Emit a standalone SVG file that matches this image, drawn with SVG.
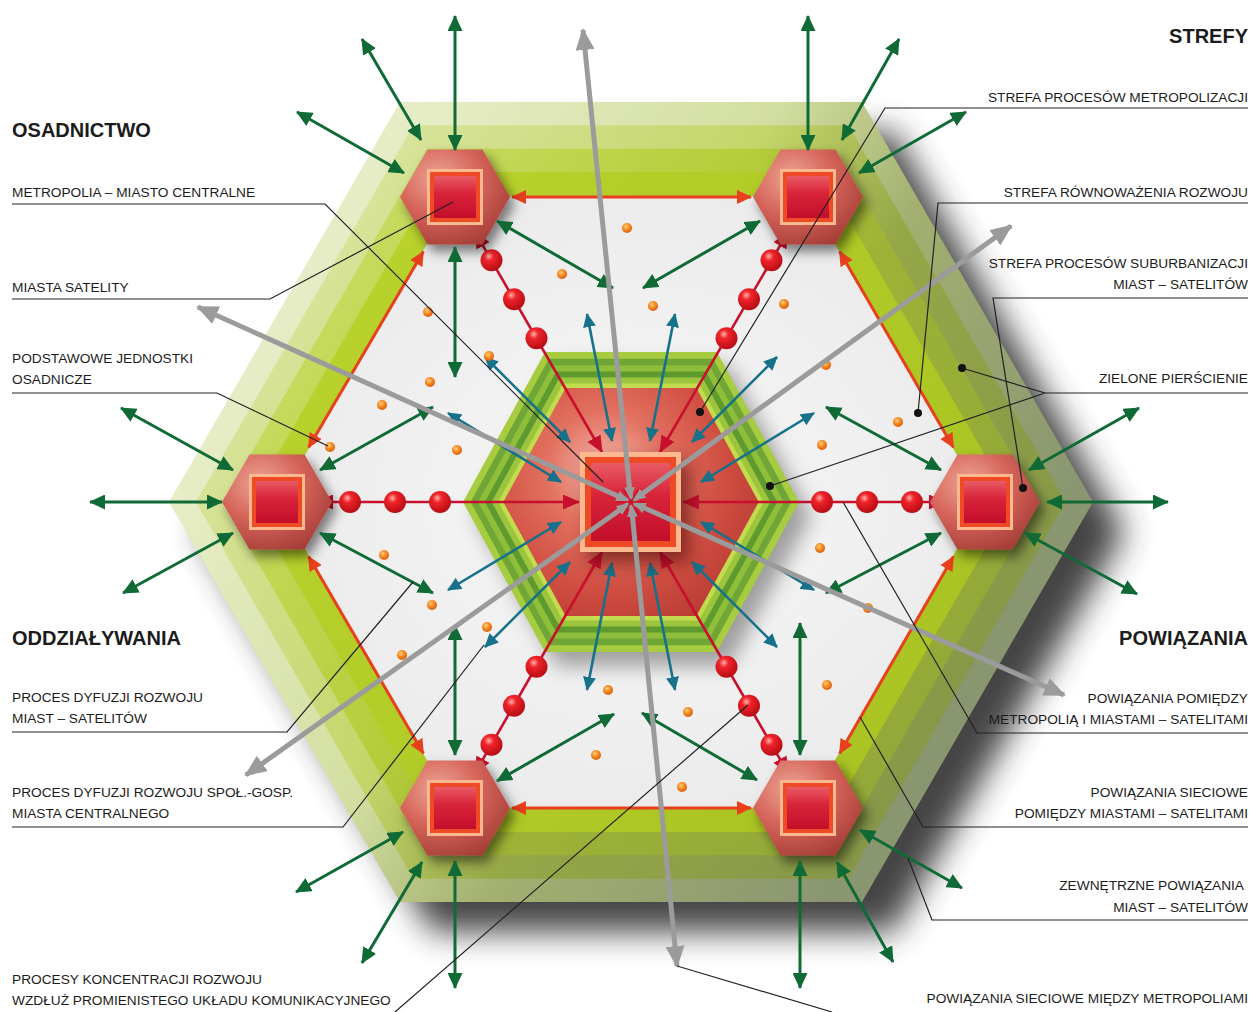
<svg xmlns="http://www.w3.org/2000/svg" xmlns:xlink="http://www.w3.org/1999/xlink" width="1252" height="1012" viewBox="0 0 1252 1012">
<defs>
<style>
text{font-family:"Liberation Sans",Arial,sans-serif;fill:#1c1c1c}
.h{font-size:20px;font-weight:bold}
.l{font-size:13.7px}
.end{text-anchor:end}
.ld{fill:none;stroke:#222;stroke-width:1.2}
.dot{fill:#111}
.g{stroke:#0f6a36;stroke-width:3;fill:none;marker-start:url(#mG);marker-end:url(#mG)}
.t{stroke:#17718a;stroke-width:2.6;fill:none;marker-start:url(#mT);marker-end:url(#mT)}
.r{stroke:#c8102e;stroke-width:2.6;fill:none;marker-start:url(#mR);marker-end:url(#mR)}
.e{stroke:#e8401c;stroke-width:3;fill:none;marker-start:url(#mE);marker-end:url(#mE)}
.gy{stroke:#9b9b9b;stroke-width:5;fill:none;marker-start:url(#mGs);marker-end:url(#mGy)}
.sp{fill:url(#sphere)}
.od{fill:url(#orange)}
</style>
<marker id="mG" viewBox="0 0 16 15" refX="15" refY="7.5" markerWidth="16" markerHeight="15" markerUnits="userSpaceOnUse" orient="auto-start-reverse"><path d="M0,0L16,7.5L0,15z" fill="#0f6a36"/></marker>
<marker id="mT" viewBox="0 0 14 13" refX="13" refY="6.5" markerWidth="14" markerHeight="13" markerUnits="userSpaceOnUse" orient="auto-start-reverse"><path d="M0,0L14,6.5L0,13z" fill="#17718a"/></marker>
<marker id="mR" viewBox="0 0 17 15" refX="16" refY="7.5" markerWidth="17" markerHeight="15" markerUnits="userSpaceOnUse" orient="auto-start-reverse"><path d="M0,0L17,7.5L0,15z" fill="#c8102e"/></marker>
<marker id="mE" viewBox="0 0 15 14" refX="14" refY="7" markerWidth="15" markerHeight="14" markerUnits="userSpaceOnUse" orient="auto-start-reverse"><path d="M0,0L15,7L0,14z" fill="#e8401c"/></marker>
<marker id="mGy" viewBox="0 0 22 19" refX="20" refY="9.5" markerWidth="22" markerHeight="19" markerUnits="userSpaceOnUse" orient="auto-start-reverse"><path d="M0,0L22,9.5L0,19z" fill="#9b9b9b"/></marker>
<marker id="mGs" viewBox="0 0 13 11" refX="12" refY="5.5" markerWidth="13" markerHeight="11" markerUnits="userSpaceOnUse" orient="auto-start-reverse"><path d="M0,0L13,5.5L0,11z" fill="#9b9b9b"/></marker>

<linearGradient id="b4" gradientUnits="userSpaceOnUse" x1="300" y1="300" x2="950" y2="700"><stop offset="0" stop-color="#e6edc6"/><stop offset="0.4" stop-color="#d3dfa0"/><stop offset="0.62" stop-color="#a3b070"/><stop offset="1" stop-color="#8a9670"/></linearGradient>
<linearGradient id="b3" gradientUnits="userSpaceOnUse" x1="300" y1="300" x2="950" y2="700"><stop offset="0" stop-color="#d7e49a"/><stop offset="0.4" stop-color="#c4d66a"/><stop offset="0.62" stop-color="#96a748"/><stop offset="1" stop-color="#879848"/></linearGradient>
<linearGradient id="b2" gradientUnits="userSpaceOnUse" x1="300" y1="300" x2="950" y2="700"><stop offset="0" stop-color="#c8dc62"/><stop offset="0.4" stop-color="#b6cd3a"/><stop offset="0.62" stop-color="#9db236"/><stop offset="1" stop-color="#93a838"/></linearGradient>
<linearGradient id="b1" gradientUnits="userSpaceOnUse" x1="300" y1="300" x2="950" y2="700"><stop offset="0" stop-color="#b9d22c"/><stop offset="1" stop-color="#a9c322"/></linearGradient>
<radialGradient id="interior" cx="0.5" cy="0.5" r="0.6"><stop offset="0" stop-color="#f8f8f8"/><stop offset="1" stop-color="#e9e9e9"/></radialGradient>
<radialGradient id="redHex" gradientUnits="userSpaceOnUse" cx="605" cy="470" r="170"><stop offset="0" stop-color="#f4b8ad"/><stop offset="0.35" stop-color="#e2705f"/><stop offset="0.7" stop-color="#d04e42"/><stop offset="1" stop-color="#b93c34"/></radialGradient>
<radialGradient id="hexG" cx="0.35" cy="0.3" r="0.85"><stop offset="0" stop-color="#eea595"/><stop offset="0.45" stop-color="#d5645a"/><stop offset="1" stop-color="#9c3630"/></radialGradient>
<linearGradient id="sqG" x1="0" y1="0" x2="0" y2="1"><stop offset="0" stop-color="#e95b66"/><stop offset="0.4" stop-color="#d9253a"/><stop offset="1" stop-color="#c20e2a"/></linearGradient>
<radialGradient id="sphere" cx="0.38" cy="0.32" r="0.7"><stop offset="0" stop-color="#ffb0a8"/><stop offset="0.3" stop-color="#f0242a"/><stop offset="1" stop-color="#b50c14"/></radialGradient>
<radialGradient id="orange" cx="0.4" cy="0.35" r="0.7"><stop offset="0" stop-color="#ffd080"/><stop offset="0.5" stop-color="#f5881e"/><stop offset="1" stop-color="#d9560e"/></radialGradient>
<filter id="blurBig" x="-20%" y="-20%" width="140%" height="140%"><feGaussianBlur stdDeviation="16"/></filter>
<filter id="blurMid" x="-30%" y="-30%" width="160%" height="160%"><feGaussianBlur stdDeviation="10"/></filter>
<filter id="ds" x="-40%" y="-40%" width="180%" height="180%"><feDropShadow dx="5" dy="7" stdDeviation="6" flood-color="#000" flood-opacity="0.5"/></filter>
<filter id="ds2" x="-40%" y="-40%" width="180%" height="180%"><feDropShadow dx="8" dy="10" stdDeviation="9" flood-color="#3a0000" flood-opacity="0.55"/></filter>
<g id="satShape">
<polygon points="55,0 27.5,-47.6 -27.5,-47.6 -55,0 -27.5,47.6 27.5,47.6" fill="url(#hexG)" filter="url(#ds)"/>
<rect x="-28" y="-28" width="56" height="56" fill="#fcb88e"/>
<rect x="-25" y="-25" width="50" height="50" fill="#ee4a26"/>
<rect x="-21" y="-21" width="42" height="42" fill="url(#sqG)"/>
</g>
</defs>

<rect width="1252" height="1012" fill="#ffffff"/>

<g id="zones">
<polygon points="1093,502 862,102 400,102 169,502 400,902 862,902" transform="translate(32,30)" fill="#3a3a3a" opacity="0.95" filter="url(#blurBig)"/>
<polygon points="1093,502 862,102 400,102 169,502 400,902 862,902" fill="url(#b4)"/>
<polygon points="1066,502 848.5,125.3 413.5,125.3 196,502 413.5,878.7 848.5,878.7" fill="url(#b3)"/>
<polygon points="1039,502 835,148.7 427,148.7 223,502 427,855.3 835,855.3" fill="url(#b2)"/>
<polygon points="1012,502 821.5,172 440.5,172 250,502 440.5,832 821.5,832" fill="url(#b1)"/>
<polygon points="984,502 807.5,196.3 454.5,196.3 278,502 454.5,807.7 807.5,807.7" fill="url(#interior)"/>
</g>

<g id="central-zone">
<polygon points="799,502 717,352 545,352 463,502 545,652 717,652" transform="translate(12,14)" fill="#666" opacity="0.6" filter="url(#blurMid)"/>
<polygon points="799,502 717,352 545,352 463,502 545,652 717,652" fill="#a7cc3f"/>
<polygon points="791.4,502 713.1,358.7 548.9,358.7 470.6,502 548.9,645.3 713.1,645.3" fill="#6fa635"/>
<polygon points="783.9,502 709.3,365.5 552.7,365.5 478.1,502 552.7,638.5 709.3,638.5" fill="#8fbe3a"/>
<polygon points="777.2,502 705.8,371.5 556.2,371.5 484.8,502 556.2,632.5 705.8,632.5" fill="#5e9a2e"/>
<polygon points="770.4,502 702.4,377.5 559.6,377.5 491.6,502 559.6,626.5 702.4,626.5" fill="#9cc53d"/>
<polygon points="763.7,502 698.9,383.5 563.1,383.5 498.3,502 563.1,620.5 698.9,620.5" fill="#c2dc4e"/>
<polygon points="758.7,502 696.4,388 565.6,388 503.3,502 565.6,616 696.4,616" fill="url(#redHex)"/>
</g>

<g id="connectors">
<g id="network-edges">
<line class="e" x1="512" y1="197" x2="751" y2="197"/>
<line class="e" x1="839.6" y1="251.5" x2="953.4" y2="447.5"/>
<line class="e" x1="953.4" y1="556.5" x2="839.6" y2="753.5"/>
<line class="e" x1="751" y1="808" x2="512" y2="808"/>
<line class="e" x1="423.4" y1="753.5" x2="308.6" y2="556.5"/>
<line class="e" x1="308.6" y1="447.5" x2="423.4" y2="251.5"/>
</g>
<g id="teal">
<line class="t" x1="612" y1="441" x2="587" y2="314"/>
<line class="t" x1="650" y1="441" x2="675" y2="314"/>
<line class="t" x1="692" y1="442" x2="777" y2="357"/>
<line class="t" x1="701" y1="482" x2="814" y2="413"/>
<line class="t" x1="701" y1="522" x2="814" y2="590"/>
<line class="t" x1="692" y1="562" x2="777" y2="647"/>
<line class="t" x1="650" y1="563" x2="675" y2="690"/>
<line class="t" x1="612" y1="563" x2="587" y2="690"/>
<line class="t" x1="570" y1="562" x2="485" y2="647"/>
<line class="t" x1="561" y1="522" x2="448" y2="590"/>
<line class="t" x1="561" y1="482" x2="448" y2="413"/>
<line class="t" x1="570" y1="442" x2="485" y2="357"/>
</g>
<g id="radials">
<line class="r" x1="475" y1="232" x2="602" y2="452"/>
<line class="r" x1="788" y1="232" x2="660" y2="452"/>
<line class="r" x1="317" y1="502" x2="579" y2="502"/>
<line class="r" x1="945" y1="502" x2="683" y2="502"/>
<line class="r" x1="475" y1="773" x2="602" y2="552"/>
<line class="r" x1="788" y1="773" x2="660" y2="552"/>
<circle class="sp" cx="491.5" cy="260.2" r="11"/><circle class="sp" cx="514" cy="299.2" r="11"/><circle class="sp" cx="536.5" cy="338.2" r="11"/>
<circle class="sp" cx="771.5" cy="260.2" r="11"/><circle class="sp" cx="749" cy="299.2" r="11"/><circle class="sp" cx="726.5" cy="338.2" r="11"/>
<circle class="sp" cx="350" cy="502" r="11"/><circle class="sp" cx="395" cy="502" r="11"/><circle class="sp" cx="440" cy="502" r="11"/>
<circle class="sp" cx="912" cy="502" r="11"/><circle class="sp" cx="867" cy="502" r="11"/><circle class="sp" cx="822" cy="502" r="11"/>
<circle class="sp" cx="491.5" cy="744.8" r="11"/><circle class="sp" cx="514" cy="705.8" r="11"/><circle class="sp" cx="536.5" cy="666.8" r="11"/>
<circle class="sp" cx="771.5" cy="744.8" r="11"/><circle class="sp" cx="749" cy="705.8" r="11"/><circle class="sp" cx="726.5" cy="666.8" r="11"/>
</g>
</g>

<g id="metropolia">
<rect x="580" y="452" width="101" height="100" fill="#fcb88e" filter="url(#ds2)"/>
<rect x="585" y="457" width="91" height="90" fill="#ee4a26"/>
<rect x="591" y="463" width="79" height="78" fill="url(#sqG)"/>
</g>

<g id="sat-tl"><use xlink:href="#satShape" x="455" y="197"/></g>
<g id="sat-tr"><use xlink:href="#satShape" x="808" y="197"/></g>
<g id="sat-l"><use xlink:href="#satShape" x="277" y="502"/></g>
<g id="sat-r"><use xlink:href="#satShape" x="985" y="502"/></g>
<g id="sat-bl"><use xlink:href="#satShape" x="455" y="808"/></g>
<g id="sat-br"><use xlink:href="#satShape" x="808" y="808"/></g>

<g id="settlements">
<circle class="od" cx="627" cy="228" r="5"/><circle class="od" cx="562" cy="274" r="5"/><circle class="od" cx="653" cy="306" r="5"/>
<circle class="od" cx="428" cy="312" r="5"/><circle class="od" cx="489" cy="356" r="5"/><circle class="od" cx="430" cy="382" r="5"/>
<circle class="od" cx="382" cy="405" r="5"/><circle class="od" cx="330" cy="447" r="5"/><circle class="od" cx="457" cy="450" r="5"/>
<circle class="od" cx="384" cy="555" r="5"/><circle class="od" cx="432" cy="605" r="5"/><circle class="od" cx="487" cy="627" r="5"/>
<circle class="od" cx="402" cy="655" r="5"/><circle class="od" cx="608" cy="690" r="5"/><circle class="od" cx="688" cy="712" r="5"/>
<circle class="od" cx="596" cy="755" r="5"/><circle class="od" cx="682" cy="787" r="5"/><circle class="od" cx="827" cy="685" r="5"/>
<circle class="od" cx="868" cy="608" r="5"/><circle class="od" cx="820" cy="548" r="5"/><circle class="od" cx="822" cy="445" r="5"/>
<circle class="od" cx="898" cy="422" r="5"/><circle class="od" cx="826" cy="365" r="5"/><circle class="od" cx="784" cy="304" r="5"/>
</g>

<g id="external-links">
<line class="g" x1="455" y1="150" x2="455" y2="16"/>
<line class="g" x1="421" y1="140" x2="362" y2="39"/>
<line class="g" x1="404" y1="173" x2="297" y2="112"/>
<line class="g" x1="455" y1="247" x2="455" y2="377"/>
<line class="g" x1="497" y1="221" x2="613" y2="288"/>
<line class="g" x1="808" y1="150" x2="808" y2="16"/>
<line class="g" x1="842" y1="140" x2="899" y2="39"/>
<line class="g" x1="859" y1="173" x2="966" y2="112"/>
<line class="g" x1="760" y1="221" x2="643" y2="288"/>
<line class="g" x1="233" y1="470" x2="121" y2="408"/>
<line class="g" x1="222" y1="502" x2="90" y2="502"/>
<line class="g" x1="233" y1="533" x2="123" y2="593"/>
<line class="g" x1="320" y1="470" x2="433" y2="407"/>
<line class="g" x1="320" y1="533" x2="433" y2="593"/>
<line class="g" x1="1029" y1="470" x2="1139" y2="408"/>
<line class="g" x1="1047" y1="502" x2="1168" y2="502"/>
<line class="g" x1="1025" y1="533" x2="1137" y2="594"/>
<line class="g" x1="941" y1="470" x2="826" y2="407"/>
<line class="g" x1="941" y1="533" x2="826" y2="593"/>
<line class="g" x1="455" y1="861" x2="455" y2="988"/>
<line class="g" x1="422" y1="862" x2="362" y2="963"/>
<line class="g" x1="403" y1="832" x2="296" y2="892"/>
<line class="g" x1="455" y1="755" x2="455" y2="625"/>
<line class="g" x1="497" y1="781" x2="614" y2="714"/>
<line class="g" x1="800" y1="861" x2="800" y2="988"/>
<line class="g" x1="837" y1="862" x2="893" y2="962"/>
<line class="g" x1="860" y1="830" x2="962" y2="888"/>
<line class="g" x1="800" y1="755" x2="800" y2="623"/>
<line class="g" x1="757" y1="780" x2="642" y2="713"/>
</g>

<g id="metro-links">
<line class="gy" x1="630.7" y1="499" x2="583" y2="30"/>
<line class="gy" x1="628.3" y1="500.8" x2="198" y2="307"/>
<line class="gy" x1="633.4" y1="500.2" x2="1011" y2="226"/>
<line class="gy" x1="633.7" y1="503.2" x2="1064" y2="695"/>
<line class="gy" x1="628.6" y1="503.7" x2="246" y2="775"/>
<line class="gy" x1="631.3" y1="505" x2="677" y2="966"/>
<path d="M616,502H646M623.5,489L638.5,515M638.5,489L623.5,515" stroke="#d0102a" stroke-width="1.5" fill="none"/>
</g>

<g id="leaders">
<path class="ld" d="M12,204H325L603,482"/>
<path class="ld" d="M12,299H270L453,202"/>
<path class="ld" d="M12,393H217L328,446"/>
<path class="ld" d="M12,732H287L413,582"/>
<path class="ld" d="M12,827H343L484,645"/>
<path class="ld" d="M395,1012L748,705"/>
<path class="ld" d="M1248,108H885L700,412"/>
<path class="ld" d="M1248,203H938L918,413"/>
<path class="ld" d="M1248,298H993L1023,488"/>
<path class="ld" d="M1248,393H1045L962,368M1045,393L770,486"/>
<path class="ld" d="M1248,733H977L843,502"/>
<path class="ld" d="M1248,827H923L860,717"/>
<path class="ld" d="M1248,920H932L908,858"/>
<path class="ld" d="M832,1012L677,966"/>
<circle class="dot" cx="700" cy="412" r="4"/>
<circle class="dot" cx="918" cy="413" r="4"/>
<circle class="dot" cx="1023" cy="488" r="4"/>
<circle class="dot" cx="962" cy="368" r="4"/>
<circle class="dot" cx="770" cy="486" r="4"/>
</g>

<g id="labels">
<text class="h" x="12" y="137">OSADNICTWO</text>
<text class="l" x="12" y="197">METROPOLIA – MIASTO CENTRALNE</text>
<text class="l" x="12" y="292">MIASTA SATELITY</text>
<text class="l" x="12" y="363">PODSTAWOWE JEDNOSTKI</text>
<text class="l" x="12" y="384">OSADNICZE</text>
<text class="h" x="12" y="645">ODDZIAŁYWANIA</text>
<text class="l" x="12" y="702">PROCES DYFUZJI ROZWOJU</text>
<text class="l" x="12" y="723">MIAST – SATELITÓW</text>
<text class="l" x="12" y="797">PROCES DYFUZJI ROZWOJU SPOŁ.-GOSP.</text>
<text class="l" x="12" y="818">MIASTA CENTRALNEGO</text>
<text class="l" x="12" y="984">PROCESY KONCENTRACJI ROZWOJU</text>
<text class="l" x="12" y="1005">WZDŁUŻ PROMIENISTEGO UKŁADU KOMUNIKACYJNEGO</text>
<text class="h end" x="1248" y="43">STREFY</text>
<text class="l end" x="1248" y="102">STREFA PROCESÓW METROPOLIZACJI</text>
<text class="l end" x="1248" y="197">STREFA RÓWNOWAŻENIA ROZWOJU</text>
<text class="l end" x="1248" y="268">STREFA PROCESÓW SUBURBANIZACJI</text>
<text class="l end" x="1248" y="289">MIAST – SATELITÓW</text>
<text class="l end" x="1248" y="383">ZIELONE PIERŚCIENIE</text>
<text class="h end" x="1248" y="645">POWIĄZANIA</text>
<text class="l end" x="1248" y="703">POWIĄZANIA POMIĘDZY</text>
<text class="l end" x="1248" y="724">METROPOLIĄ I MIASTAMI – SATELITAMI</text>
<text class="l end" x="1248" y="797">POWIĄZANIA SIECIOWE</text>
<text class="l end" x="1248" y="818">POMIĘDZY MIASTAMI – SATELITAMI</text>
<text class="l end" x="1244" y="890">ZEWNĘTRZNE POWIĄZANIA</text>
<text class="l end" x="1248" y="912">MIAST – SATELITÓW</text>
<text class="l end" x="1248" y="1003">POWIĄZANIA SIECIOWE MIĘDZY METROPOLIAMI</text>
</g>
</svg>
